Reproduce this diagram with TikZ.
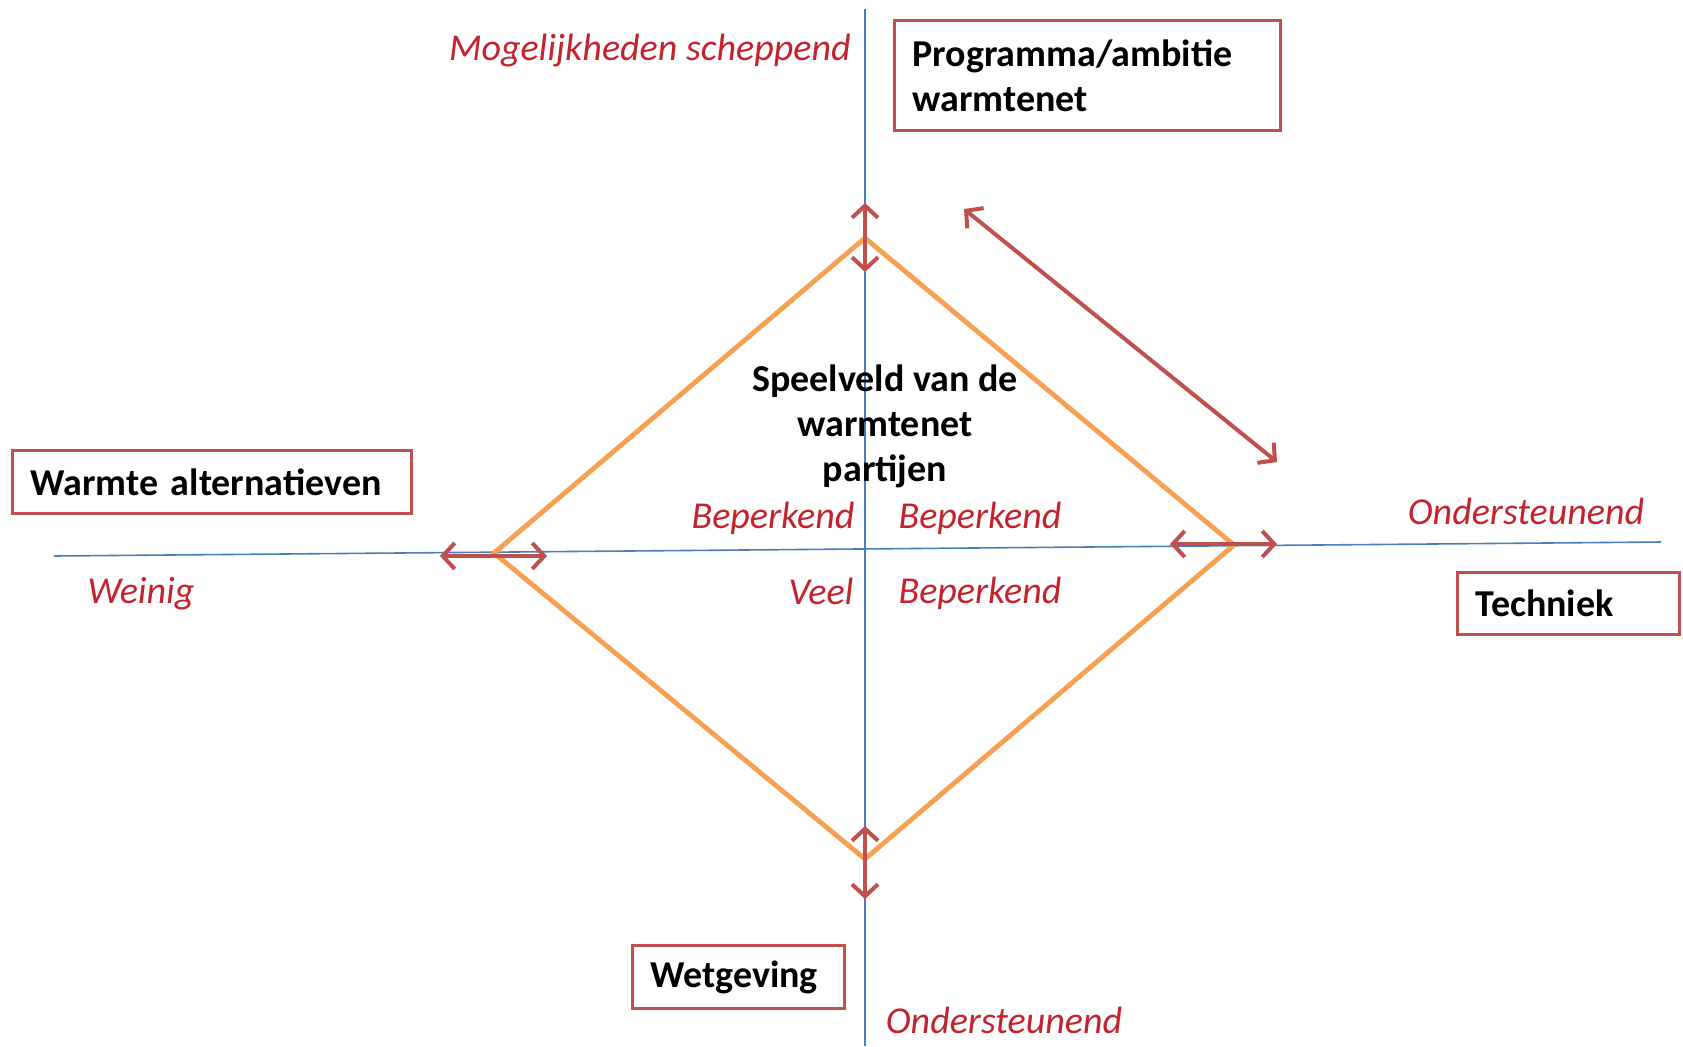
\documentclass[tikz,border=0pt]{standalone}
\usepackage{fontspec}
\setmainfont{Carlito}
\usetikzlibrary{arrows.meta}
\definecolor{axisblue}{RGB}{74,126,187}
\definecolor{boxred}{RGB}{192,80,77}
\definecolor{arrred}{RGB}{192,80,77}
\definecolor{textred}{RGB}{195,35,45}
\definecolor{dorange}{RGB}{247,160,80}
\begin{document}
\begin{tikzpicture}[x=0.5pt,y=-0.5pt]
\tikzset{
 lbl/.style={font=\fontsize{19}{22.5}\selectfont\itshape, text=textred, inner sep=0pt},
 box/.style={draw=boxred, line width=1.6pt, anchor=north west, align=left, font=\fontsize{19}{22.5}\selectfont\bfseries, inner xsep=9pt, inner ysep=0pt},
 ctext/.style={align=center, font=\fontsize{19}{22.5}\selectfont\bfseries, inner sep=0pt},
 axisline/.style={draw=axisblue, line width=0.8pt},
 dia/.style={draw=dorange, line width=2.4pt, line join=miter},
 dbl/.style={draw=arrred, line width=2pt, {Straight Barb[length=6pt,width=13pt]}-{Straight Barb[length=6pt,width=13pt]}},
}
\useasboundingbox[fill=white] (0,0) rectangle (1683,1046);
% axes
\coordinate (vt) at (865,9);
\coordinate (vb) at (865,1046);
\coordinate (hl) at (54,556);
\coordinate (hr) at (1661,542);
\draw[axisline] (vt) -- (vb);
\draw[axisline] (hl) -- (hr);
% diamond
\coordinate (dt) at (865,238);
\coordinate (dr) at (1234,545);
\coordinate (db) at (865,859);
\coordinate (dl) at (494,553);
\draw[dia] (dt) -- (dr) -- (db) -- (dl) -- cycle;
% arrows
\coordinate (a1s) at (865,203); \coordinate (a1e) at (865,272);
\coordinate (a2s) at (865,826); \coordinate (a2e) at (865,899);
\coordinate (a3s) at (440,556); \coordinate (a3e) at (547,556);
\coordinate (a4s) at (1170,544); \coordinate (a4e) at (1277,544);
\coordinate (a5s) at (964,209); \coordinate (a5e) at (1277,462);
\draw[dbl] (a1s) -- (a1e);
\draw[dbl] (a2s) -- (a2e);
\draw[dbl] (a3s) -- (a3e);
\draw[dbl] (a4s) -- (a4e);
\draw[dbl] (a5s) -- (a5e);
% boxes
\node[box, minimum width=193pt, minimum height=55pt, text width=175pt] (prog) at (893,19) {Programma/ambitie\\warmtenet};
\node[box, minimum width=199.5pt, minimum height=31.5pt, text width=181.5pt] (warm) at (11,449) {Warmte alternatieven};
\node[box, minimum width=111pt, minimum height=31pt, text width=93pt] (tech) at (1456,571) {Techniek};
\node[box, minimum width=106pt, minimum height=31.5pt, text width=88pt] (wet) at (631,944) {Wetgeving};
% centre text
\node[ctext] (speel) at (885,426) {Speelveld van de\\warmtenet\\partijen};
% red labels
\node[lbl, anchor=east] (mog) at (851,51) {Mogelijkheden scheppend};
\node[lbl] (bep1) at (773,518) {Beperkend};
\node[lbl] (bep2) at (980,518) {Beperkend};
\node[lbl] (veel) at (821,591) {Veel};
\node[lbl] (bep3) at (980,593) {Beperkend};
\node[lbl] (ond1) at (1526,511) {Ondersteunend};
\node[lbl] (wein) at (141,594) {Weinig};
\node[lbl] (ond2) at (1004,1020) {Ondersteunend};
\end{tikzpicture}
\end{document}
